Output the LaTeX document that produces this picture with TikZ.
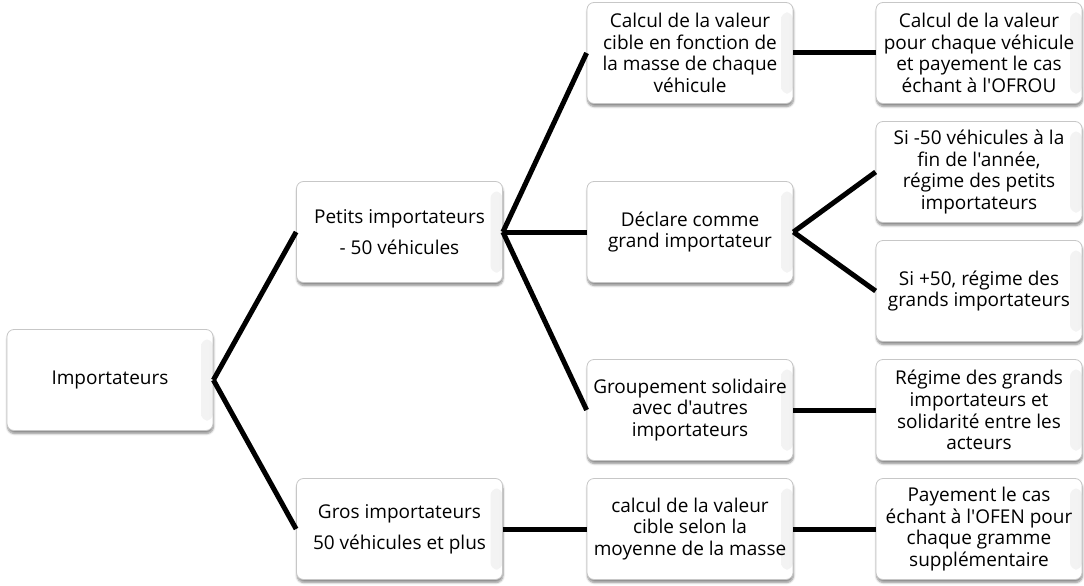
\documentclass[tikz,border=0pt]{standalone}
\usepackage{fontspec}
\setmainfont{Open Sans}[Ligatures=TeXOff]
\usetikzlibrary{shadows.blur}
\begin{document}
\begin{tikzpicture}[x=1pt,y=-1pt,
  box/.style={draw=black!22, line width=0.8pt, fill=white, rounded corners=7pt,
    minimum width=206pt, minimum height=101pt, inner sep=2pt, align=center,
    font=\fontsize{19}{21.7}\selectfont,
    path picture={\shade[left color=white, right color=black!5]
      ([xshift=-12pt,yshift=-10pt]path picture bounding box.north east)
      rectangle ([yshift=10pt]path picture bounding box.south east);},
    blur shadow={shadow xshift=0.5pt, shadow yshift=-3pt, shadow blur steps=6, shadow opacity=45}},
  link/.style={line width=5pt, black}]
\useasboundingbox (0,0) rectangle (1084,586);

% root
\node[box] (imp) at (110,380) {Importateurs};

% first level
\node[box] (petits) at (399.5,232) {Petits importateurs\\[9pt]- 50 véhicules};
\node[box] (gros) at (399.5,529) {Gros importateurs\\[9pt]50 véhicules et plus};

% second level
\node[box] (cible) at (690,53) {Calcul de la valeur\\cible en fonction de\\la masse de chaque\\véhicule};
\node[box] (declare) at (690,232) {Déclare comme\\grand importateur};
\node[box] (groupe) at (690,410) {Groupement solidaire\\avec d'autres\\importateurs};
\node[box] (moyenne) at (690,529) {calcul de la valeur\\cible selon la\\moyenne de la masse};

% third level
\node[box] (chaque) at (979,53) {Calcul de la valeur\\pour chaque véhicule\\et payement le cas\\échant à l'OFROU};
\node[box] (moins) at (979,172) {Si -50 véhicules à la\\fin de l'année,\\régime des petits\\importateurs};
\node[box] (plus) at (979,291) {Si +50, régime des\\grands importateurs};
\node[box] (solid) at (979,410) {Régime des grands\\importateurs et\\solidarité entre les\\acteurs};
\node[box] (ofen) at (979,529) {Payement le cas\\échant à l'OFEN pour\\chaque gramme\\supplémentaire};

% connectors
\draw[link] (imp.east) -- (petits.west);
\draw[link] (imp.east) -- (gros.west);
\draw[link] (petits.east) -- (cible.west);
\draw[link] (petits.east) -- (declare.west);
\draw[link] (petits.east) -- (groupe.west);
\draw[link] (gros.east) -- (moyenne.west);
\draw[link] (cible.east) -- (chaque.west);
\draw[link] (declare.east) -- (moins.west);
\draw[link] (declare.east) -- (plus.west);
\draw[link] (groupe.east) -- (solid.west);
\draw[link] (moyenne.east) -- (ofen.west);
\end{tikzpicture}
\end{document}
